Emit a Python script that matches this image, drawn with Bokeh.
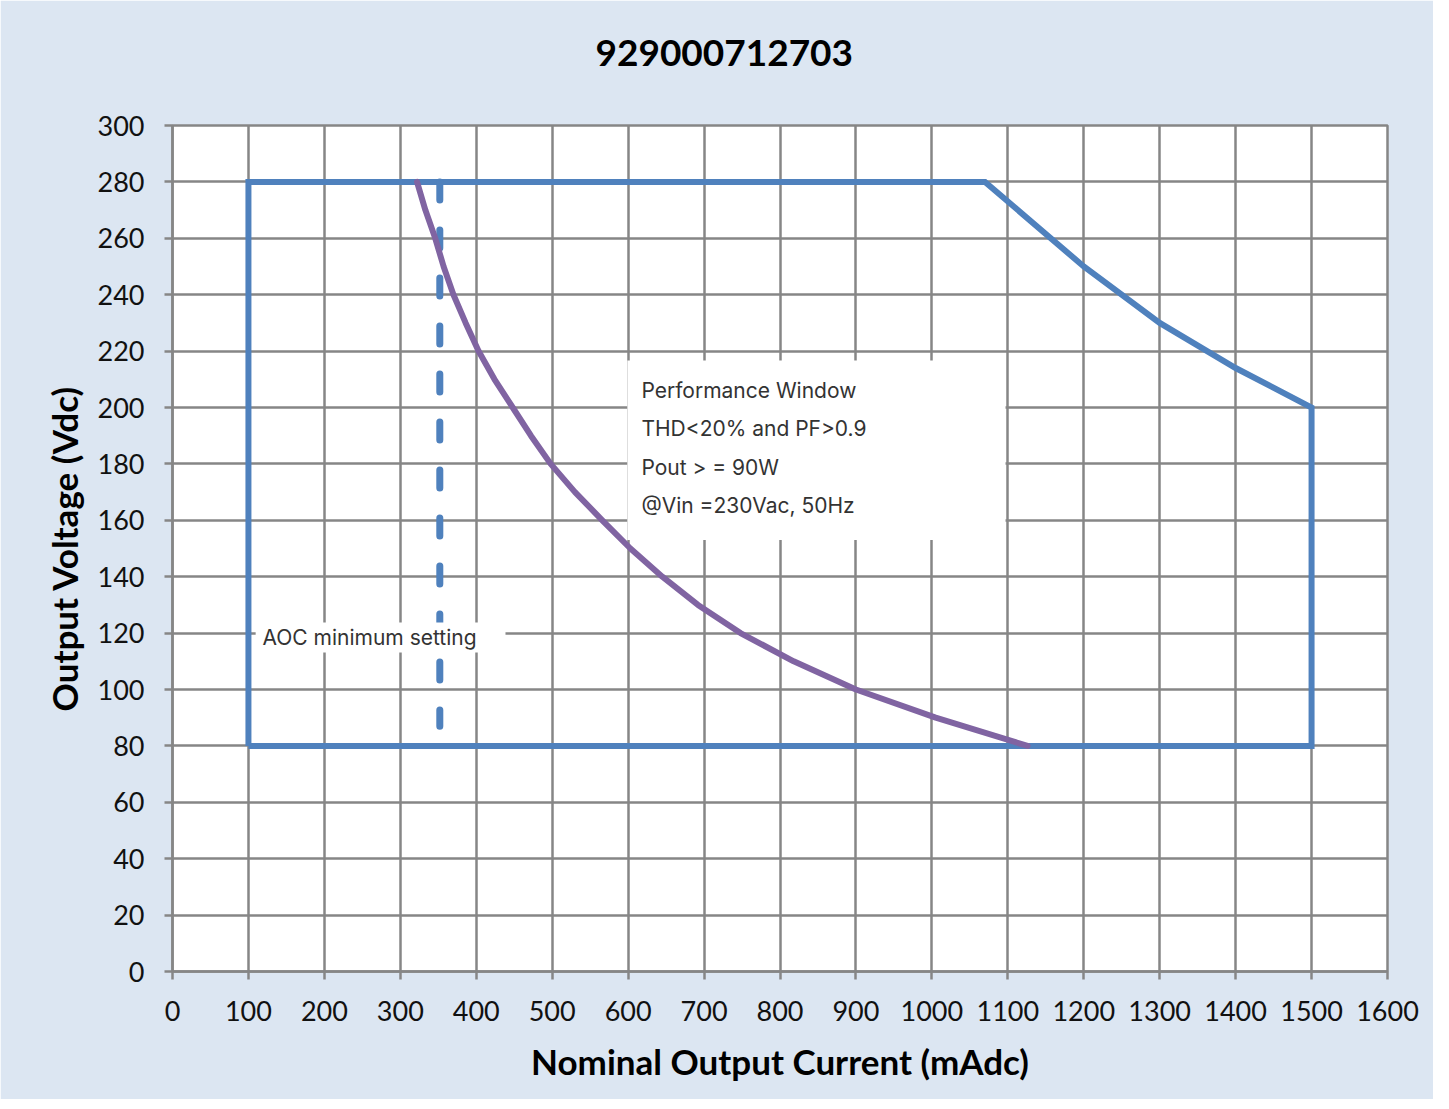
from bokeh.plotting import figure
from bokeh.models import Range1d, Label, BoxAnnotation, FixedTicker, Title
from bokeh.embed import file_html
from bokeh.resources import INLINE

# ---- data ----
window_x = [100, 100, 1070, 1200, 1300, 1400, 1500, 1500, 100]
window_y = [80, 280, 280, 250, 230, 214, 200, 80, 80]
curve_x = [322, 333, 346, 357, 370, 386, 403, 424, 448, 472, 498, 530, 566, 603, 645, 692, 748, 818, 900, 1005, 1126]
curve_y = [280, 270, 260, 250, 240, 230, 220, 210, 200, 190, 180, 170, 160, 150, 140, 130, 120, 110, 100, 90, 80]
aoc_x = [352, 352]
aoc_y = [280, 87]
x_ticks = list(range(0, 1601, 100))
y_ticks = list(range(0, 301, 20))
title_text = "929000712703"
x_label = "Nominal Output Current (mAdc)"
y_label = "Output Voltage (Vdc)"
perf_lines = ["Performance Window", "THD<20% and PF>0.9", "Pout > = 90W", "@Vin =230Vac, 50Hz"]
aoc_text = "AOC minimum setting"

BG = "#DCE6F2"
GRID = "#868686"
BLUE = "#4F81BD"
PURPLE = "#8064A2"
FONT = "Lato"
ANN_FONT = "Inter"

W, H = 1433, 1099
FL, FT, FR, FB = 172, 125, 1387, 971   # frame edges in canvas pixels
p = figure(width=W, height=H, output_backend="svg", toolbar_location=None,
           x_range=Range1d(0, 1600), y_range=Range1d(0, 300),
           min_border_left=FL, min_border_right=W - FR, min_border_top=FT, min_border_bottom=H - FB)
p.background_fill_color = "white"
p.border_fill_color = BG
p.outline_line_color = GRID
p.outline_line_width = 2.5

# real title, with an invisible spacer title between it and the frame
p.title.text = title_text
p.title.text_font = FONT
p.title.text_font_style = "bold"
p.title.text_font_size = "37px"
p.title.text_color = "#000000"
p.title.align = "left"
p.title.offset = 423
p.add_layout(Title(text=" ", text_font_size="39px", text_color=BG), "above")

for ax, ticks in ((p.xaxis[0], x_ticks), (p.yaxis[0], y_ticks)):
    ax.ticker = FixedTicker(ticks=ticks)
    ax.axis_line_color = GRID
    ax.axis_line_width = 2.5
    ax.major_tick_line_color = GRID
    ax.major_tick_line_width = 2.5
    ax.major_tick_out = 8
    ax.major_tick_in = 0
    ax.minor_tick_line_color = None
    ax.major_label_text_font = FONT
    ax.major_label_text_font_size = "27px"
    ax.major_label_text_color = "#111111"
    ax.axis_label_text_font = FONT
    ax.axis_label_text_font_style = "bold"
    ax.axis_label_text_font_size = "35px"
    ax.axis_label_text_color = "#000000"

p.xaxis.axis_label = x_label
p.yaxis.axis_label = y_label
p.xaxis.major_label_standoff = 21
p.yaxis.major_label_standoff = 20
p.xaxis.axis_label_standoff = 16
p.yaxis.axis_label_standoff = 10

for g, ticks in ((p.xgrid[0], x_ticks), (p.ygrid[0], y_ticks)):
    g.ticker = FixedTicker(ticks=ticks)
    g.grid_line_color = GRID
    g.grid_line_width = 2.5

# white boxes behind annotation texts
perf_box = BoxAnnotation(left=599, right=1097, bottom=153, top=216.7,
                         fill_color="white", fill_alpha=1.0, line_color=None, level="underlay")
p.add_layout(perf_box)

p.line(window_x, window_y, line_color=BLUE, line_width=6, line_join="miter")
p.line(aoc_x, aoc_y, line_color=BLUE, line_width=7, line_dash="18 30", line_cap="round")
p.line(curve_x, curve_y, line_color=PURPLE, line_width=6, line_join="round", line_cap="round")

aoc_box = BoxAnnotation(left=109.5, right=438.5, bottom=113.1, top=123.8,
                        fill_color="white", fill_alpha=1.0, line_color=None)
p.add_layout(aoc_box)

for i, t in enumerate(perf_lines):
    p.add_layout(Label(x=617.5, y=206 - i * 13.6, text=t, text_font=ANN_FONT,
                       text_font_size="21px", text_color="#333333",
                       text_baseline="middle", text_align="left"))
p.add_layout(Label(x=118.5, y=118.5, text=aoc_text, text_font=ANN_FONT,
                   text_font_size="21px", text_color="#333333",
                   text_baseline="middle", text_align="left"))

open("out.html", "w").write(file_html(p, INLINE))
